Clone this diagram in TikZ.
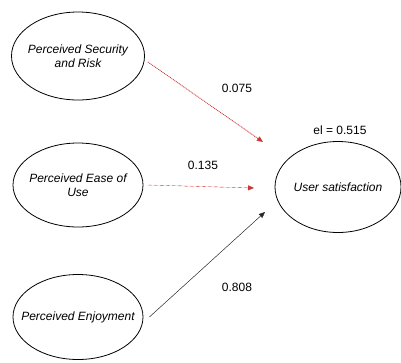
\documentclass[tikz,border=0pt]{standalone}
\usepackage{fontspec}
\setmainfont{Liberation Sans}
\usetikzlibrary{arrows.meta,shapes.geometric}
\begin{document}
\begin{tikzpicture}[x=1pt,y=-1pt,
  construct/.style={draw,thick,ellipse,inner xsep=-14pt,inner ysep=0pt,align=center,font=\fontsize{12}{14}\selectfont\itshape},
  lbl/.style={font=\fontsize{12}{14}\selectfont},
  path/.style={-{Triangle[length=6pt,width=5pt]}},
  redpath/.style={path,draw=red!75!black!80,fill=red!75!black!80}]
\useasboundingbox (0,0) rectangle (401,362);
\node[construct,minimum width=133pt,minimum height=88pt] (psr) at (78,56) {Perceived Security\\and Risk};
\node[construct,minimum width=130pt,minimum height=84pt] (peu) at (78,185) {Perceived Ease of\\Use};
\node[construct,minimum width=130pt,minimum height=85pt] (pe) at (78,317) {Perceived Enjoyment};
\node[construct,minimum width=126pt,minimum height=91pt] (us) at (338,187) {User satisfaction};
\node[lbl] (r2) at (340,130) {el = 0.515};
\coordinate (t1) at (263,142);
\coordinate (t2) at (254,188);
\coordinate (t3) at (265,212);
\draw[redpath,densely dotted,thick] (psr.east) ++(3,6) coordinate (s1) -- (t1);
\draw[redpath,dashed] (peu.east) ++(5,0) coordinate (s2) -- (t2);
\draw[path,draw=black!85,fill=black!85] (pe.east) ++(6,0) coordinate (s3) -- (t3);
\node[lbl] (l1) at (237,88) {0.075};
\node[lbl] (l2) at (203,165) {0.135};
\node[lbl] (l3) at (237,287) {0.808};
\end{tikzpicture}
\end{document}
